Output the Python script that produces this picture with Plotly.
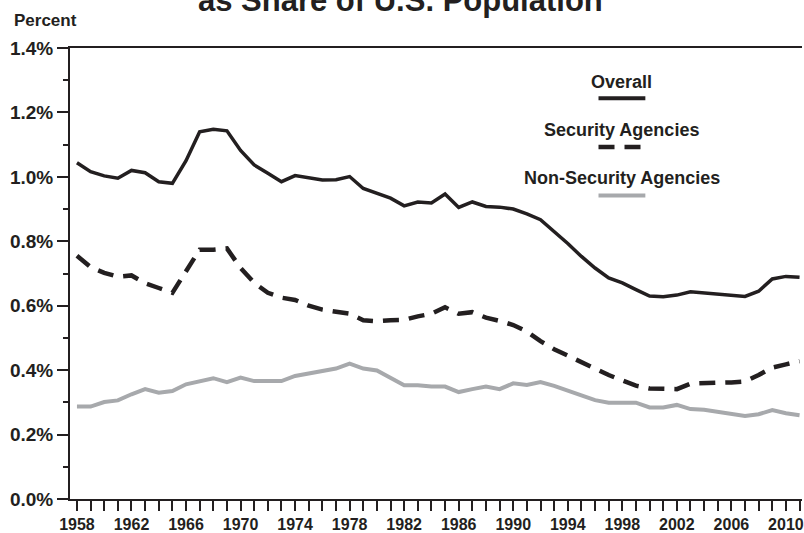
import plotly.graph_objects as go

years = list(range(1958, 2012))

overall = [
    1.044, 1.016, 1.003, 0.996, 1.020, 1.013, 0.985, 0.980, 1.050, 1.140,
    1.148, 1.143, 1.082, 1.037, 1.011, 0.985, 1.004, 0.996, 0.990, 0.991,
    1.001, 0.964, 0.950, 0.934, 0.910, 0.922, 0.919, 0.947, 0.905, 0.922,
    0.908, 0.906, 0.900, 0.885, 0.867, 0.831, 0.793, 0.753, 0.717, 0.686,
    0.671, 0.650, 0.630, 0.628, 0.633, 0.643, 0.640, 0.635, 0.633, 0.629,
    0.645, 0.683, 0.691, 0.688,
]

security = [
    0.755, 0.720, 0.702, 0.690, 0.694, 0.670, 0.655, 0.640, 0.707, 0.774,
    0.774, 0.778, 0.717, 0.671, 0.640, 0.625, 0.618, 0.600, 0.588, 0.583,
    0.575, 0.555, 0.552, 0.555, 0.556, 0.567, 0.575, 0.595, 0.575, 0.580,
    0.563, 0.553, 0.540, 0.520, 0.490, 0.465, 0.445, 0.422, 0.405, 0.385,
    0.368, 0.352, 0.343, 0.341, 0.341, 0.358, 0.361, 0.361, 0.362, 0.365,
    0.385, 0.408, 0.418, 0.428,
]

non_security = [
    0.287, 0.287, 0.301, 0.306, 0.325, 0.341, 0.330, 0.335, 0.356, 0.366,
    0.375, 0.363, 0.377, 0.366, 0.366, 0.366, 0.382, 0.389, 0.397, 0.405,
    0.420, 0.405, 0.399, 0.375, 0.353, 0.353, 0.349, 0.349, 0.332, 0.341,
    0.349, 0.341, 0.359, 0.354, 0.363, 0.351, 0.338, 0.322, 0.307, 0.299,
    0.299, 0.299, 0.284, 0.284, 0.292, 0.279, 0.277, 0.270, 0.266, 0.258,
    0.263, 0.276, 0.266, 0.260,
]

DARK = "#231f20"
GREY = "#a7a9ac"
FONT = "Liberation Sans, Arial, Helvetica, sans-serif"

fig = go.Figure()

fig.add_trace(go.Scatter(x=years, y=non_security, mode="lines",
                         line=dict(color=GREY, width=4), name="Non-Security Agencies"))
fig.add_trace(go.Scatter(x=years, y=security, mode="lines",
                         line=dict(color=DARK, width=4.5, dash="16px,10px"),
                         name="Security Agencies"))
fig.add_trace(go.Scatter(x=years, y=overall, mode="lines",
                         line=dict(color=DARK, width=3.5), name="Overall"))

# legend drawn as labels with a key line under each
keys = [
    ("Overall", 0.9254, 0.8887, dict(color=DARK, width=4)),
    ("Security Agencies", 0.8186, 0.7803, dict(color=DARK, width=4.5, dash="16px,10px")),
    ("Non-Security Agencies", 0.7117, 0.6732, dict(color=GREY, width=4)),
]
for label, ty, ly, style in keys:
    fig.add_annotation(text=label, x=0.754, y=ty, xref="paper", yref="paper",
                       showarrow=False, xanchor="center", yanchor="middle",
                       font=dict(family=FONT, size=18, color=DARK, weight="bold"))
    fig.add_shape(type="line", xref="paper", yref="paper",
                  x0=0.722, x1=0.786, y0=ly, y1=ly, line=style)

fig.add_annotation(text="Percent", x=-0.079, y=1.062, xref="paper", yref="paper",
                   showarrow=False, xanchor="left", yanchor="middle",
                   font=dict(family=FONT, size=17, color=DARK, weight="bold"))

fig.add_annotation(text="as Share of U.S. Population", x=0.451, y=1.061,
                   xref="paper", yref="paper", showarrow=False,
                   xanchor="center", yanchor="bottom",
                   font=dict(family=FONT, size=31, color=DARK, weight="bold"))

fig.update_xaxes(
    range=[1957.49, 2011.18], showgrid=False, zeroline=False,
    showline=True, linecolor=DARK, linewidth=2, mirror=True,
    ticks="outside", ticklen=10, tickwidth=2, tickcolor=DARK,
    tick0=1958, dtick=4, ticklabeloverflow="allow",
    minor=dict(ticks="outside", ticklen=10, tickwidth=2, tickcolor=DARK, dtick=1, tick0=1958),
    tickfont=dict(family=FONT, size=16, color=DARK, weight="bold"),
)
fig.update_yaxes(
    range=[0, 1.4], showgrid=False, zeroline=False,
    showline=True, linecolor=DARK, linewidth=2,
    ticks="outside", ticklen=11, tickwidth=2, tickcolor=DARK,
    tick0=0, dtick=0.2, tickformat=".1f", ticksuffix="%",
    minor=dict(ticks="outside", ticklen=5, tickwidth=2, tickcolor=DARK, dtick=0.1),
    tickfont=dict(family=FONT, size=19, color=DARK, weight="bold"),
)

fig.update_layout(
    width=804, height=533,
    margin=dict(l=70, r=0, t=48, b=33),
    paper_bgcolor="white", plot_bgcolor="white",
    showlegend=False,
)

# drop the default page margin so the figure sits at the window's corner
fig.write_html(
    "out.html",
    config={"displayModeBar": False},
    post_script="document.body.style.margin='0';document.body.style.overflow='hidden';",
)
